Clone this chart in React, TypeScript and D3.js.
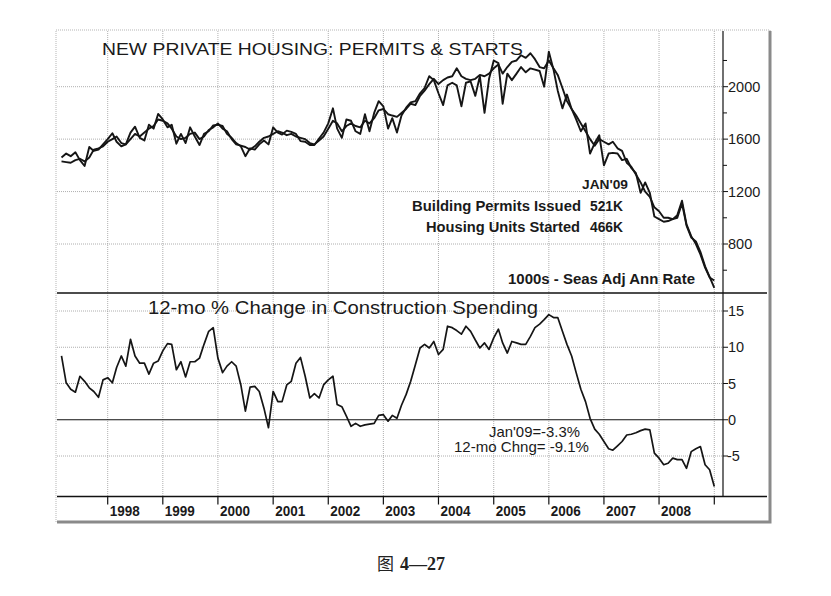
import React, { useRef, useEffect } from 'react';
import * as d3 from 'd3';

const W = 831;
const H = 596;

// monthly values, Mar 1997 .. Jan 2009 (1000s, SAAR)
const permits = [
  1430, 1425, 1420, 1440, 1450, 1430, 1460, 1520, 1530, 1545,
  1580, 1600, 1620, 1570, 1560, 1600, 1640, 1620, 1650, 1680, 1700, 1750,
  1740, 1720, 1680, 1620, 1600, 1610, 1640, 1650, 1600, 1620, 1670, 1690,
  1720, 1680, 1660, 1600, 1560, 1550, 1540, 1520, 1545, 1580, 1610, 1620,
  1640, 1660, 1650, 1630, 1640, 1620, 1610, 1600, 1570, 1560, 1590, 1620,
  1680, 1740, 1720, 1660, 1700, 1720, 1700, 1690, 1740, 1720, 1760, 1820,
  1830, 1790, 1780, 1770, 1800, 1830, 1870, 1860, 1930, 1970, 2020, 2060,
  2020, 2050, 2070, 2080, 2140, 2080, 2060, 2050, 2060, 2090, 2080, 2100,
  2140, 2170, 2100, 2150, 2190, 2200, 2240, 2220, 2255, 2210, 2150, 2140,
  2200, 2140, 2090, 1990, 1890, 1830, 1780, 1720, 1660, 1600, 1550, 1600,
  1580, 1560, 1580, 1530, 1510, 1420, 1390, 1330, 1270, 1200, 1160, 1080,
  1050, 1000, 1000, 990, 1020, 1130, 950, 860, 800, 720, 620, 545,
  521,
];

const starts = [
  1460, 1490, 1470, 1500, 1440, 1395, 1540, 1510, 1520, 1560,
  1600, 1645, 1580, 1545, 1560, 1650, 1695, 1610, 1590, 1710, 1680, 1792,
  1750, 1690, 1710, 1565, 1640, 1570, 1690, 1620, 1555, 1640, 1660, 1705,
  1710, 1700, 1640, 1610, 1570, 1545, 1470, 1530, 1520, 1560, 1590, 1560,
  1690, 1650, 1635, 1665, 1655, 1640, 1585, 1580, 1555, 1555, 1605, 1650,
  1720, 1835, 1680, 1610, 1750, 1740, 1660, 1640, 1790, 1660, 1800, 1890,
  1850, 1680, 1760, 1650, 1780, 1840, 1880, 1890, 1950, 1990, 2080, 2050,
  1950, 1860, 2010, 2030, 2010, 1850, 2030, 2040, 1930, 2080, 1800, 2060,
  2200, 2180, 1870, 2100, 2050, 2100, 2150, 2110, 2140, 2130, 2120, 2000,
  2267, 2130, 1970, 1835, 1940, 1830, 1750, 1660, 1720, 1490, 1570, 1630,
  1400, 1490, 1495, 1490, 1440, 1450, 1380, 1340, 1190, 1270, 1190, 1010,
  990, 970, 975, 990, 1000, 1110, 940, 850, 820, 740, 630, 550,
  466,
];

// 12-month % change in construction spending
const spending = [
  8.8, 5.1, 4.2, 3.8, 6.0, 5.3, 4.4, 3.9, 3.1, 5.5,
  5.8, 5.1, 7.2, 8.8, 7.4, 11.1, 8.8, 7.8, 7.8, 6.3, 7.8, 8.1,
  9.5, 10.5, 10.4, 6.9, 8.0, 5.9, 8.0, 8.0, 8.5, 10.4, 12.2, 12.7,
  8.5, 6.5, 7.4, 8.0, 7.4, 4.8, 1.2, 4.5, 4.6, 3.9, 1.6, -1.1,
  3.9, 2.5, 2.5, 4.8, 5.3, 7.8, 8.6, 6.0, 3.0, 3.6, 3.0, 4.8,
  5.5, 6.0, 2.1, 1.8, 0.5, -0.9, -0.5, -0.9, -0.7, -0.6, -0.5, 0.6,
  0.7, -0.2, 0.6, 0.2, 2.0, 3.5, 5.3, 7.6, 9.9, 10.4, 9.9, 10.8,
  9.0, 9.7, 12.9, 12.7, 12.3, 11.8, 12.9, 12.2, 11.0, 9.9, 10.6, 9.7,
  11.3, 12.5, 10.6, 9.2, 10.8, 10.6, 10.4, 10.4, 11.5, 12.7, 13.2, 13.8,
  14.5, 14.1, 14.1, 12.2, 10.4, 8.8, 6.5, 4.2, 2.5, 0.2, -1.3, -2.0,
  -3.0, -4.0, -4.2, -3.6, -3.0, -2.1, -2.0, -1.8, -1.5, -1.3, -1.4, -4.6,
  -5.3, -6.2, -6.0, -5.3, -5.5, -5.5, -6.7, -4.4, -4.0, -3.7, -6.2, -6.9,
  -9.2,
];

const months = d3.range(permits.length).map((i) => new Date(1997, 2 + i, 1));
const years = d3.range(1998, 2010);
const housingTicks = [800, 1200, 1600, 2000];
const housingMinor = [600, 1000, 1400, 1800, 2200];
const spendTicks = [-5, 0, 5, 10, 15];

const SANS = '"Liberation Sans", Arial, sans-serif';
const NARROW = '"Liberation Sans Narrow", "Arial Narrow", "Liberation Sans", Arial, sans-serif';

const App = () => {
  const svgRef = useRef(null);

  useEffect(() => {
    const svg = d3.select(svgRef.current);
    svg.selectAll('*').remove();

    const left = 57, right = 723, edge = 767;
    const topY = 31, midY = 293, botY = 496.5;

    const x = d3.scaleTime()
      .domain([new Date(1998, 0, 1), new Date(2009, 0, 1)])
      .range([107.7, 714.3]);
    const yTop = d3.scaleLinear().domain([800, 2000]).range([244, 86.7]);
    const yBot = d3.scaleLinear().domain([-5, 15]).range([456, 311]);

    // outer frame
    svg.append('rect')
      .attr('x', 56).attr('y', 30).attr('width', 714).attr('height', 492)
      .attr('fill', '#fff').attr('stroke', '#b5b5b5').attr('stroke-dasharray', '1,1');
    svg.append('path')
      .attr('d', 'M770,31 V522 H57')
      .attr('fill', 'none').attr('stroke', '#8a8a8a').attr('stroke-width', 3);

    const grid = svg.append('g')
      .attr('stroke', '#9a9a9a').attr('stroke-width', 0.8).attr('stroke-dasharray', '1,1');

    years.forEach((yr) => {
      grid.append('line')
        .attr('x1', x(new Date(yr, 0, 1))).attr('x2', x(new Date(yr, 0, 1)))
        .attr('y1', topY).attr('y2', botY);
    });
    housingTicks.forEach((v) => {
      grid.append('line').attr('x1', left).attr('x2', right).attr('y1', yTop(v)).attr('y2', yTop(v));
    });
    spendTicks.filter((v) => v !== 0).forEach((v) => {
      grid.append('line').attr('x1', left).attr('x2', right).attr('y1', yBot(v)).attr('y2', yBot(v));
    });

    // solid structure lines
    const solid = svg.append('g').attr('stroke', '#111').attr('fill', 'none');
    solid.append('line').attr('x1', left).attr('x2', edge).attr('y1', midY).attr('y2', midY).attr('stroke-width', 1.5);
    solid.append('line').attr('x1', left).attr('x2', edge).attr('y1', botY).attr('y2', botY).attr('stroke-width', 1.5);
    solid.append('line').attr('x1', right).attr('x2', right).attr('y1', topY).attr('y2', botY).attr('stroke-width', 1.2);
    solid.append('line').attr('x1', left).attr('x2', right).attr('y1', yBot(0)).attr('y2', yBot(0)).attr('stroke-width', 1);

    // year ticks under bottom panel
    years.forEach((yr) => {
      solid.append('line')
        .attr('x1', x(new Date(yr, 0, 1))).attr('x2', x(new Date(yr, 0, 1)))
        .attr('y1', botY).attr('y2', botY + 8).attr('stroke-width', 1.2);
    });

    // right axis ticks
    housingTicks.forEach((v) => {
      solid.append('line').attr('x1', right).attr('x2', right + 5).attr('y1', yTop(v)).attr('y2', yTop(v));
    });
    housingMinor.forEach((v) => {
      solid.append('line').attr('x1', right).attr('x2', right + 4).attr('y1', yTop(v)).attr('y2', yTop(v));
    });
    spendTicks.forEach((v) => {
      solid.append('line').attr('x1', right).attr('x2', right + 5).attr('y1', yBot(v)).attr('y2', yBot(v));
    });

    const labels = svg.append('g').attr('fill', '#1a1a1a').attr('font-family', SANS).attr('font-size', 14.5);
    housingTicks.forEach((v) => {
      labels.append('text').attr('x', right + 5).attr('y', yTop(v)).attr('dy', '0.36em').text(v);
    });
    spendTicks.forEach((v) => {
      labels.append('text').attr('x', v < 0 ? right + 4 : right + 5).attr('y', yBot(v)).attr('dy', '0.36em').text(v);
    });

    years.slice(0, -1).forEach((yr) => {
      svg.append('text')
        .attr('x', x(new Date(yr, 0, 1)) + 2).attr('y', 515.5)
        .attr('font-family', SANS).attr('font-size', 14.5).attr('font-weight', 'bold')
        .attr('fill', '#1a1a1a').attr('textLength', 30).attr('lengthAdjust', 'spacingAndGlyphs')
        .text(yr);
    });

    // data lines
    const lineTop = (vals) => d3.line().x((d, i) => x(months[i])).y((d) => yTop(d))(vals);
    const lineBot = d3.line().x((d, i) => x(months[i])).y((d) => yBot(d));

    [permits, starts].forEach((vals) => {
      svg.append('path').attr('d', lineTop(vals))
        .attr('fill', 'none').attr('stroke', '#151515').attr('stroke-width', 1.9)
        .attr('stroke-linejoin', 'round');
    });
    svg.append('path').attr('d', lineBot(spending))
      .attr('fill', 'none').attr('stroke', '#151515').attr('stroke-width', 1.7)
      .attr('stroke-linejoin', 'round');

    // annotations
    const note = (txt, xx, yy, len, opts = {}) => {
      svg.append('text')
        .attr('x', xx).attr('y', yy)
        .attr('font-family', opts.family || NARROW)
        .attr('font-size', opts.size || 14)
        .attr('font-weight', opts.weight || 'bold')
        .attr('fill', '#1a1a1a')
        .attr('textLength', len).attr('lengthAdjust', 'spacingAndGlyphs')
        .text(txt);
    };

    note('NEW PRIVATE HOUSING: PERMITS & STARTS', 102, 55, 421, { family: SANS, size: 17, weight: 'normal' });
    note("JAN'09", 582, 188.5, 46, { size: 13.5 });
    note('Building Permits Issued', 412, 210.5, 169, { size: 14.5 });
    note('521K', 590, 210.5, 33, { size: 14.5 });
    note('Housing Units Started', 426, 232, 154, { size: 14.5 });
    note('466K', 590, 232, 33, { size: 14.5 });
    note('1000s - Seas Adj Ann Rate', 508, 283.5, 187, { size: 14.5 });

    note('12-mo % Change in Construction Spending', 148, 313.5, 390, { family: SANS, size: 17.5, weight: 'normal' });
    note("Jan'09=-3.3%", 489, 436.7, 91, { weight: 'normal', size: 14.5 });
    note('12-mo Chng= -9.1%', 454, 451.7, 135, { weight: 'normal', size: 14.5 });

    // caption
    const cap = svg.append('text').attr('x', 377).attr('y', 570).attr('fill', '#222');
    cap.append('tspan').attr('font-family', '"Noto Sans CJK SC", sans-serif').attr('font-size', 17).text('图');
    cap.append('tspan').attr('dx', 6).attr('font-family', '"Liberation Serif", "DejaVu Serif", serif')
      .attr('font-size', 18).attr('font-weight', 'bold').text('4—27');
  }, []);

  return (
    <svg
      ref={svgRef}
      width={W}
      height={H}
      style={{ position: 'absolute', left: 0, top: 0, background: '#fff' }}
    />
  );
};

export default App;
